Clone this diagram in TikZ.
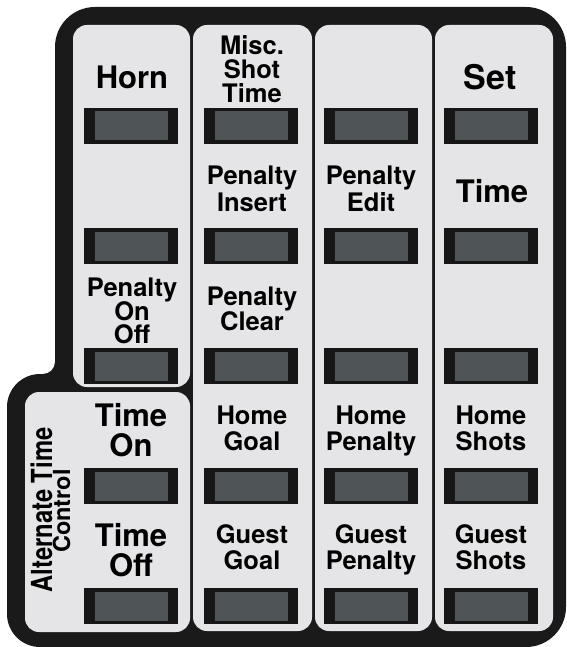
\documentclass[tikz,border=0pt]{standalone}
\usepackage{fontspec}
\setmainfont{TeX Gyre Heros}
\definecolor{framec}{RGB}{26,26,26}
\definecolor{panelc}{RGB}{229,229,231}
\definecolor{btnout}{RGB}{22,22,22}
\definecolor{btnin}{RGB}{79,85,87}
\begin{document}
\begin{tikzpicture}[x=1pt,y=-1pt,
  panel/.style={fill=panelc, rounded corners=14pt},
  btn/.style={minimum width=94pt, minimum height=36pt, inner sep=0pt, fill=btnout,
    path picture={\fill[btnin] ([xshift=10.5pt,yshift=-3.5pt]path picture bounding box.north west)
      rectangle ([xshift=-10.5pt,yshift=3.5pt]path picture bounding box.south east);}},
  med/.style={anchor=base, inner sep=0pt, font=\bfseries\fontsize{25.5}{25.5}\selectfont},
  big/.style={anchor=base, inner sep=0pt, font=\bfseries\fontsize{31}{31}\selectfont},
  huge/.style={anchor=base, inner sep=0pt, font=\bfseries\fontsize{34}{34}\selectfont}]
\useasboundingbox (0,0) rectangle (566,647);
% outer frame
\fill[framec] (55,47) .. controls (55,24.9) and (72.9,7) .. (95,7) -- (526,7)
  .. controls (548.1,7) and (566,24.9) .. (566,47) -- (566,607)
  .. controls (566,629.1) and (548.1,647) .. (526,647) -- (40,647)
  .. controls (21.8,647) and (7,632.2) .. (7,614) -- (7,407)
  .. controls (7,388.8) and (21.8,374) .. (40,374) -- (43,374)
  .. controls (49.6,374) and (55,368.6) .. (55,362) -- cycle;
% panels
\fill[panel] (73,25) rectangle (190,387);
\fill[panel] (25,392) rectangle (190,632);
\fill[panel] (193,25) rectangle (312,631);
\fill[panel] (315,25) rectangle (432,631);
\fill[panel] (435,25) rectangle (553,631);
% buttons
\foreach \c/\x in {1/131,2/251,3/371,4/491}{
  \foreach \r/\y in {1/126,2/246,3/366,4/486,5/606}{
    \node[btn] (b\c\r) at (\x,\y) {};
  }
}
% column 1
\node[big] (horn) at (132,89) {Horn};
\node[med] (pooa) at (132,296.5) {Penalty};
\node[med] (poob) at (132,320) {On};
\node[med] (pooc) at (132,343.5) {Off};
\node[big] (tona) at (131,426) {Time};
\node[big] (tonb) at (131,456) {On};
\node[big] (toffa) at (131,546) {Time};
\node[big] (toffb) at (131,576) {Off};
\node[rotate=90, anchor=base, inner sep=0pt, font=\bfseries\fontsize{29}{29}\selectfont] (alta) at (52,510) {\scalebox{0.82}[1]{Alternate Time}};
\node[rotate=90, anchor=base, inner sep=0pt, font=\bfseries\fontsize{23.5}{23.5}\selectfont] (altb) at (70,511) {Control};
% column 2
\node[med] (misca) at (252,55) {Misc.};
\node[med] (miscb) at (252,79) {Shot};
\node[med] (miscc) at (252,103) {Time};
\node[med] (pia) at (252,185) {Penalty};
\node[med] (pib) at (252,211) {Insert};
\node[med] (pca) at (252,305) {Penalty};
\node[med] (pcb) at (252,330) {Clear};
\node[med] (hga) at (252,424.5) {Home};
\node[med] (hgb) at (252,450) {Goal};
\node[med] (gga) at (252,543.5) {Guest};
\node[med] (ggb) at (252,569) {Goal};
% column 3
\node[med] (pea) at (371,185) {Penalty};
\node[med] (peb) at (371,211) {Edit};
\node[med] (hpa) at (371,424.5) {Home};
\node[med] (hpb) at (371,450) {Penalty};
\node[med] (gpa) at (371,543.5) {Guest};
\node[med] (gpb) at (371,569) {Penalty};
% column 4
\node[huge] (set) at (490,89.5) {Set};
\node[big] (time) at (492,202) {Time};
\node[med] (hsa) at (491,424.5) {Home};
\node[med] (hsb) at (491,450) {Shots};
\node[med] (gsa) at (491,543.5) {Guest};
\node[med] (gsb) at (491,569) {Shots};
\end{tikzpicture}
\end{document}
